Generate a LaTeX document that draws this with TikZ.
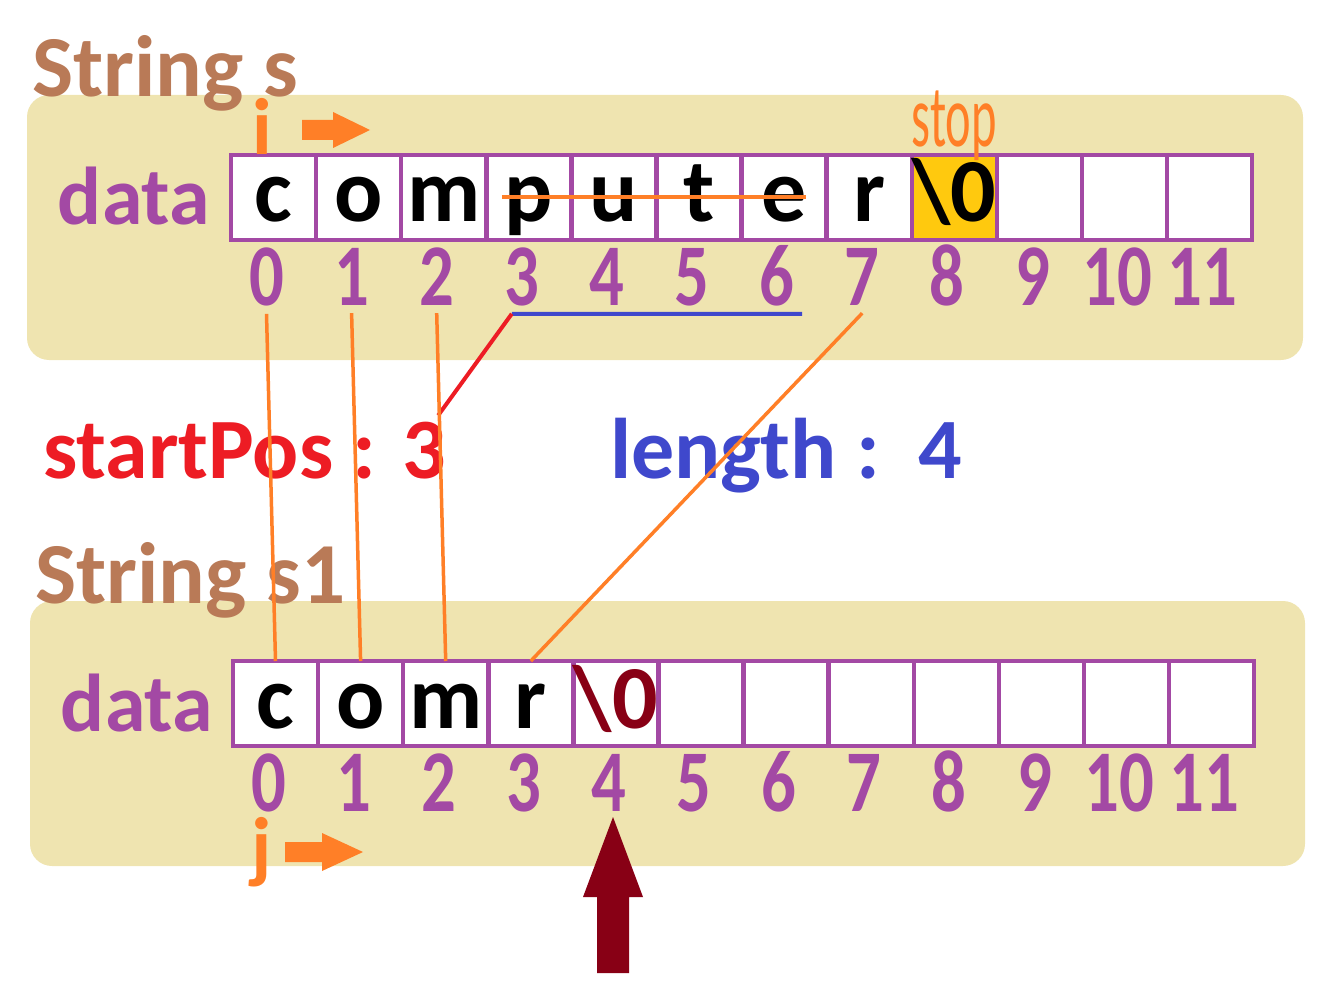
\documentclass[tikz,border=0pt]{standalone}
\usepackage{fontspec}
\setmainfont{Carlito}
\usetikzlibrary{positioning}
\definecolor{panel}{RGB}{239,228,176}
\definecolor{cellpurple}{RGB}{163,73,164}
\definecolor{titlebrown}{RGB}{185,122,87}
\definecolor{markorange}{RGB}{255,127,39}
\definecolor{posred}{RGB}{237,28,36}
\definecolor{lenblue}{RGB}{63,72,204}
\definecolor{nulred}{RGB}{136,0,21}
\definecolor{stopgold}{RGB}{255,201,14}
\newcommand{\fsz}[1]{\fontsize{#1}{#1}\selectfont}
\tikzset{
  panelbox/.style={fill=panel,rounded corners=22pt},
  cellbox/.style={draw=cellpurple,line width=4.5pt,fill=white,inner sep=0pt,outer sep=0pt,
    minimum width=85.1pt,minimum height=85pt,text height=67pt,text depth=18pt,font=\fsz{90}\bfseries},
  idx/.style={anchor=base,inner sep=8pt,text=cellpurple,font=\fsz{88}\bfseries},
  title/.style={anchor=base west,inner sep=0pt,text=titlebrown,font=\fsz{87}\bfseries},
  datalbl/.style={anchor=base east,inner sep=0pt,text=cellpurple,font=\fsz{82}\bfseries},
  marker/.style={inner sep=0pt,text=markorange,font=\fsz{80}\bfseries},
  stoplbl/.style={anchor=base,inner sep=0pt,text=markorange,font=\fsz{88}},
  info/.style={anchor=base west,inner sep=0pt,font=\fsz{86}\bfseries},
  link/.style={draw=markorange,line width=3.5pt},
}

\begin{document}
\begin{tikzpicture}[x=1pt,y=-1pt]
  \useasboundingbox (0,0) rectangle (1332,992);
  \fill[panelbox] (27,95) rectangle (1303,360);
  \fill[panelbox] (30,601) rectangle (1305,866);

  % string s
  \node[title] (stitle) at (32,97) {String s};
  \node[cellbox] (s0) at (273.5,197.5) {c};
  \foreach \ch/\bg [count=\k] in {o/white,m/white,p/white,u/white,t/white,e/white,r/white,
      {\textbackslash0}/stopgold,{}/white,{}/white,{}/white}{
    \pgfmathtruncatemacro\p{\k-1}
    \node[cellbox,fill=\bg,right=0pt of s\p] (s\k) {\ch};
  }
  \foreach \k in {0,...,11}
    \node[idx] (si\k) at ([xshift=-7pt,yshift=-65pt]s\k.south) {\scalebox{0.78}[1]{\k}};
  \node[datalbl] (sdata) at (210,225) {data};
  \node[marker,anchor=base] (ptri) at ([xshift=-11pt]s0.north) {i};
  \node[stoplbl] (stop) at ([yshift=8pt]s8.north) {\scalebox{0.55}[1]{stop}};
  \fill[markorange] (302,120) -- (333,120) -- (333,112) -- (370,130) -- (333,148) -- (333,140) -- (302,140) -- cycle;
  \draw[markorange,line width=4pt] ([xshift=-27pt]s3.center) -- ([xshift=22pt]s6.center);

  % string s1
  \node[title] (ttitle) at (35,603) {String s1};
  \node[cellbox] (t0) at (275.5,703.5) {c};
  \foreach \ch [count=\k] in {o,m,r,{\color{nulred}\textbackslash0},{},{},{},{},{},{},{}}{
    \pgfmathtruncatemacro\p{\k-1}
    \node[cellbox,right=0pt of t\p] (t\k) {\ch};
  }
  \foreach \k in {0,...,11}
    \node[idx] (ti\k) at ([xshift=-7pt,yshift=-65pt]t\k.south) {\scalebox{0.78}[1]{\k}};
  \node[datalbl] (tdata) at (213,731) {data};
  \node[marker,anchor=north] (ptrj) at (262,817) {j};
  \fill[markorange] (285,842) -- (322,842) -- (322,833) -- (363,852) -- (322,871) -- (322,862) -- (285,862) -- cycle;
  \fill[nulred] (597,973) -- (597,897) -- (583,897) -- (613,817) -- (643,897) -- (629,897) -- (629,973) -- cycle;

  % parameters
  \node[info,text=posred] (start) at (43,478) {startPos : 3};
  \node[info,text=lenblue] (len) at (610,478) {length :\ \ 4};
  \coordinate (ulA) at ([xshift=-10pt]si3.south);
  \coordinate (ulB) at ([xshift=25pt]si6.south);
  \draw[lenblue,line width=4pt] (ulA) -- (ulB);
  \draw[posred,line width=4pt] (ulA) -- ([xshift=-8pt,yshift=6pt]start.north east);

  \draw[link] (si0.south) -- (t0.north);
  \draw[link] (si1.south) -- (t1.north);
  \draw[link] (si2.south) -- (t2.north);
  \draw[link] (si7.south) -- (t3.north);
\end{tikzpicture}
\end{document}
